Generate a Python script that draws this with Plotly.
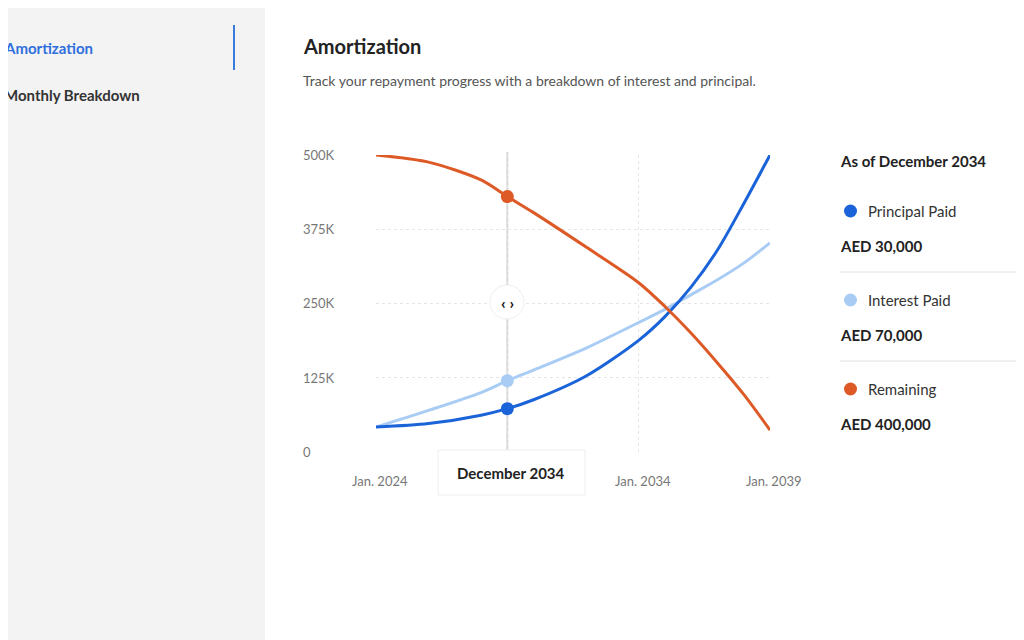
import plotly.graph_objects as go

years = [2024, 2026, 2028, 2029, 2030, 2032, 2034, 2035, 2036, 2037, 2038, 2039]
principal = [42, 48, 62, 73, 88, 128, 188, 228, 278, 340, 418, 500]
interest = [42, 70, 100, 120, 138, 175, 218, 240, 265, 290, 318, 352]
remaining = [500, 488, 458, 430, 403, 345, 285, 245, 200, 150, 97, 37]
hover_year = 2029
hover_vals = {"principal": 73, "interest": 120, "remaining": 430}
y_ticks = [0, 125, 250, 375, 500]
y_labels = ["0", "125K", "250K", "375K", "500K"]
x_ticks = [2024, 2034, 2039]
x_labels = ["Jan. 2024", "Jan. 2034", "Jan. 2039"]
legend_names = ["Principal Paid", "Interest Paid", "Remaining"]
legend_values = ["AED 30,000", "AED 70,000", "AED 400,000"]
C_DARK, C_LIGHT, C_OR = "#1a63d8", "#a9ccf5", "#dd5a27"
FONT = "Lato"
W, H, O = 1016, 632, 8

def PX(x):
    return (x - O) / W

def PY(y):
    return 1 - (y - O) / H

def k(v):
    return [x * 1000 for x in v]

fig = go.Figure()
ln = lambda c: dict(color=c, width=3, shape="spline", smoothing=0.8)
fig.add_trace(go.Scatter(x=years, y=k(interest), mode="lines", line=ln(C_LIGHT)))
fig.add_trace(go.Scatter(x=years, y=k(principal), mode="lines", line=ln(C_DARK)))
fig.add_trace(go.Scatter(x=years, y=k(remaining), mode="lines", line=ln(C_OR)))
fig.add_trace(go.Scatter(x=[hover_year] * 3,
                         y=k([hover_vals["interest"], hover_vals["principal"], hover_vals["remaining"]]),
                         mode="markers", marker=dict(size=13, color=[C_LIGHT, C_DARK, C_OR])))

shapes = [
    dict(type="rect", xref="paper", yref="paper", x0=-0.02, x1=PX(265), y0=-0.02, y1=1.02, fillcolor="#f3f3f4", line_width=0, layer="below"),
    dict(type="line", xref="paper", yref="paper", x0=PX(234), x1=PX(234), y0=PY(25), y1=PY(70), line=dict(color="#3b7be0", width=2)),
    dict(type="line", xref="x", yref="paper", x0=hover_year, x1=hover_year, y0=PY(152), y1=PY(455), line=dict(color="#d6d6d6", width=2), layer="below"),
    dict(type="rect", xref="paper", yref="paper", x0=PX(438), x1=PX(585), y0=PY(495), y1=PY(450), fillcolor="white", line=dict(color="#eeeeee", width=1)),
    dict(type="circle", xref="paper", yref="paper", x0=PX(490), x1=PX(524), y0=PY(319), y1=PY(285), fillcolor="white", line=dict(color="#eeeeee", width=1)),
]
for sep in [272, 361]:
    shapes.append(dict(type="line", xref="paper", yref="paper", x0=PX(840), x1=1.02, y0=PY(sep), y1=PY(sep), line=dict(color="#e2e2e2", width=1)))

ann = []
def t(x, y, s, size=14, color="#2b2b2b", bold=False, xanchor="left"):
    ann.append(dict(xref="paper", yref="paper", x=PX(x), y=PY(y), text=f"<b>{s}</b>" if bold else s,
                    showarrow=False, xanchor=xanchor, yanchor="middle", font=dict(family=FONT, size=size, color=color)))

t(2, 48, "Amortization", 15, "#2f6fdc", True)
t(2, 95, "Monthly Breakdown", 15, "#333", True)
t(301, 46, "Amortization", 20, "#222", True)
t(301, 81, "Track your repayment progress with a breakdown of interest and principal.", 14, "#555")
for v, lab in zip(y_ticks, y_labels):
    t(301, 452 - v / 500 * 297, lab, 13, "#777")
for v, lab in zip(x_ticks, x_labels):
    t(380 + (v - 2024) * 26.27, 481, lab, 13, "#777", xanchor="center")
t(511, 473, "December 2034", 15, "#222", True, "center")
t(507, 302, "‹ ›", 16, "#111", True, "center")
t(838, 161, "As of December 2034", 15, "#222", True)
for i, (nm, val, c) in enumerate(zip(legend_names, legend_values, [C_DARK, C_LIGHT, C_OR])):
    y0 = 211 + i * 89
    shapes.append(dict(type="circle", xref="paper", yref="paper", x0=PX(844), x1=PX(857), y0=PY(y0 + 6.5), y1=PY(y0 - 6.5), fillcolor=c, line_width=0))
    t(866, y0, nm, 15, "#333")
    t(838, y0 + 35, val, 15, "#222", True)

fig.update_layout(
    width=W, height=H, margin=dict(l=0, r=0, t=0, b=0),
    paper_bgcolor="white", plot_bgcolor="white", showlegend=False,
    xaxis=dict(domain=[PX(376), PX(770)], range=[2024, 2039], tickvals=[2024, 2029, 2034, 2039], showticklabels=False,
               showgrid=True, gridcolor="#e6e6e6", griddash="dot", zeroline=False, fixedrange=True),
    yaxis=dict(domain=[PY(452), PY(155)], range=[0, 500000], tickvals=k(y_ticks), showticklabels=False,
               showgrid=True, gridcolor="#e6e6e6", griddash="dot", zeroline=False),
    shapes=shapes, annotations=ann,
)
fig.write_html("out.html")
